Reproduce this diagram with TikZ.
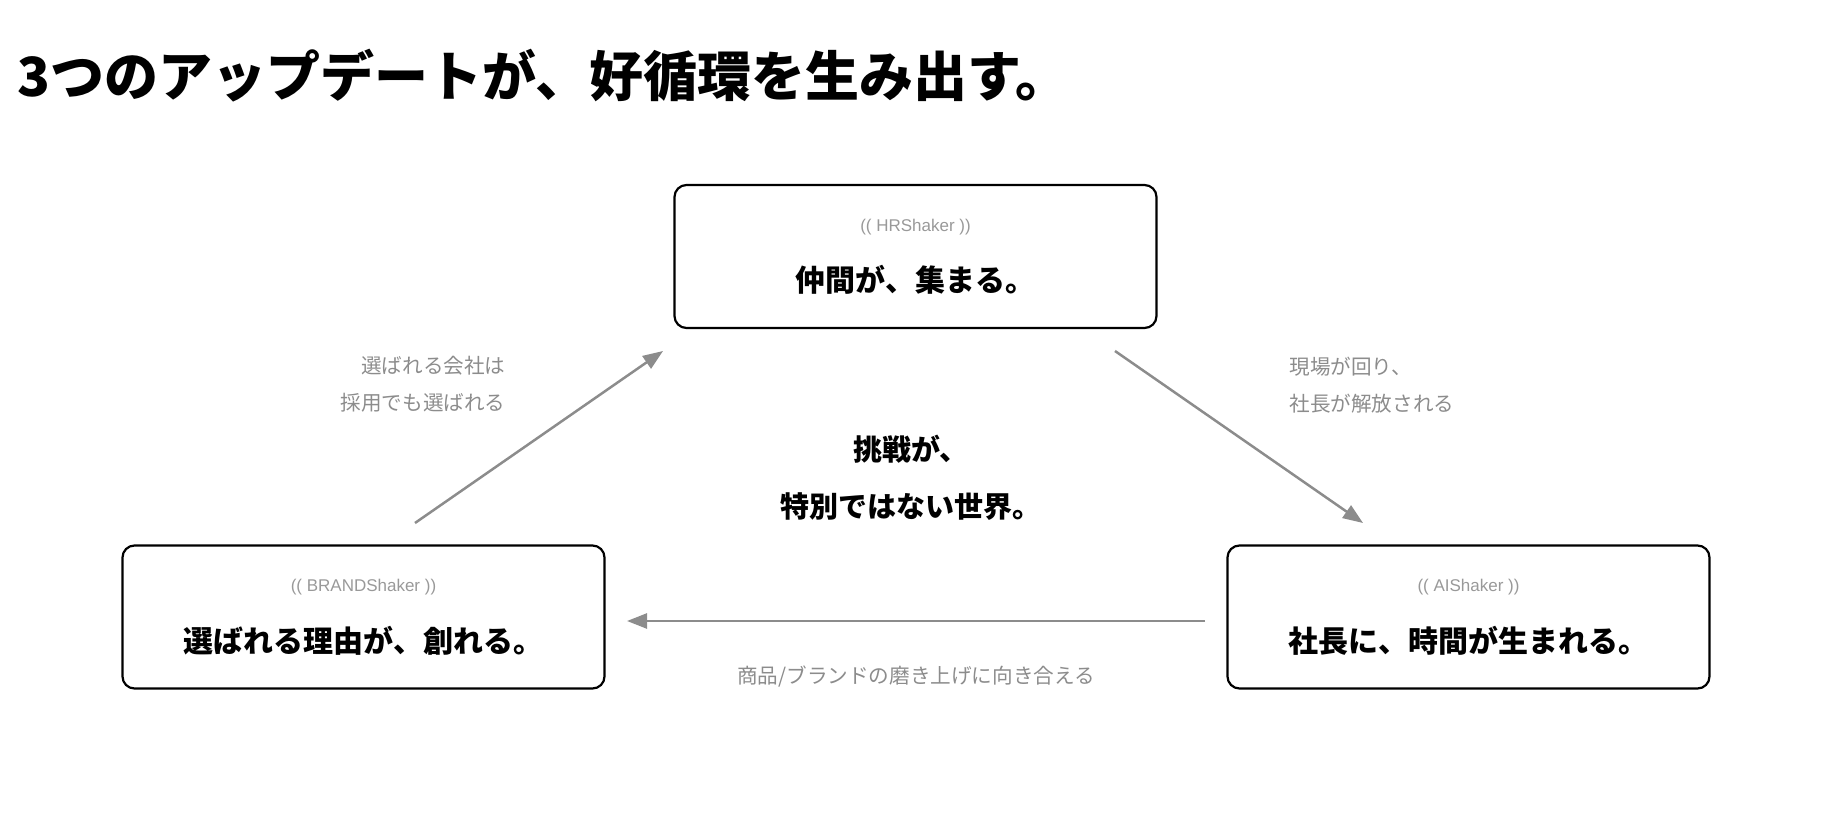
\documentclass[tikz,border=0pt]{standalone}
\usepackage{fontspec}
\usetikzlibrary{arrows.meta}
\newfontfamily\jpfont{Noto Sans CJK JP}
\newfontfamily\latinfont{Liberation Sans}
\definecolor{flowgray}{HTML}{8C8C8C}
\definecolor{taggray}{HTML}{999999}
\begin{document}
\begin{tikzpicture}[x=1pt,y=-1pt,
  box/.style={draw=black,line width=2.2pt,rounded corners=12pt,minimum width=482pt,minimum height=143pt},
  tag/.style={text=taggray,font=\latinfont\fontsize{17}{20}\selectfont},
  headline/.style={font=\jpfont\bfseries\fontsize{30}{36}\selectfont},
  note/.style={text=flowgray,font=\jpfont\fontsize{20.6}{37}\selectfont},
  flow/.style={draw=flowgray,line width=2.5pt,-{Triangle[length=20pt,width=15pt]}}]
\useasboundingbox (0,0) rectangle (1834,834);

\node [anchor=west,inner sep=0,font=\jpfont\bfseries\fontsize{54}{60}\selectfont] (title) at (17,76) {3つのアップデートが、好循環を生み出す。};

% three boxes
\node [box] (hr) at (915.5,256.5) {};
\node [tag] (hrTag) at (915.5,227) {(( HRShaker ))};
\node [headline] (hrMain) at (915.5,280) {仲間が、集まる。};

\node [box] (brand) at (363.5,617) {};
\node [tag] (brandTag) at (363.5,587) {(( BRANDShaker ))};
\node [headline] (brandMain) at (363.5,641) {選ばれる理由が、創れる。};

\node [box] (ai) at (1468.5,617) {};
\node [tag] (aiTag) at (1468.5,587) {(( AIShaker ))};
\node [headline] (aiMain) at (1468.5,641) {社長に、時間が生まれる。};

% centre
\node [headline,align=center,font=\jpfont\bfseries\fontsize{29}{57}\selectfont] (world) at (911,478) {挑戦が、\\特別ではない世界。};

% arrow ends
\coordinate (brandOut) at (415,523);
\coordinate (hrIn) at (663,351);
\coordinate (hrOut) at (1115,351);
\coordinate (aiIn) at (1363,523);
\coordinate (aiOut) at (1205,621);
\coordinate (brandIn) at (627,621);

\draw [flow] (brandOut) -- (hrIn);
\draw [flow] (hrOut) -- (aiIn);
\draw [flow] (aiOut) -- (brandIn);

\node [note,align=right,anchor=east] (brandNote) at (509,384) {選ばれる会社は\\採用でも選ばれる};
\node [note,align=left,anchor=west] (hrNote) at (1286,385) {現場が回り、\\社長が解放される};
\node [note] (aiNote) at (916,677) {商品/ブランドの磨き上げに向き合える};

\end{tikzpicture}
\end{document}
